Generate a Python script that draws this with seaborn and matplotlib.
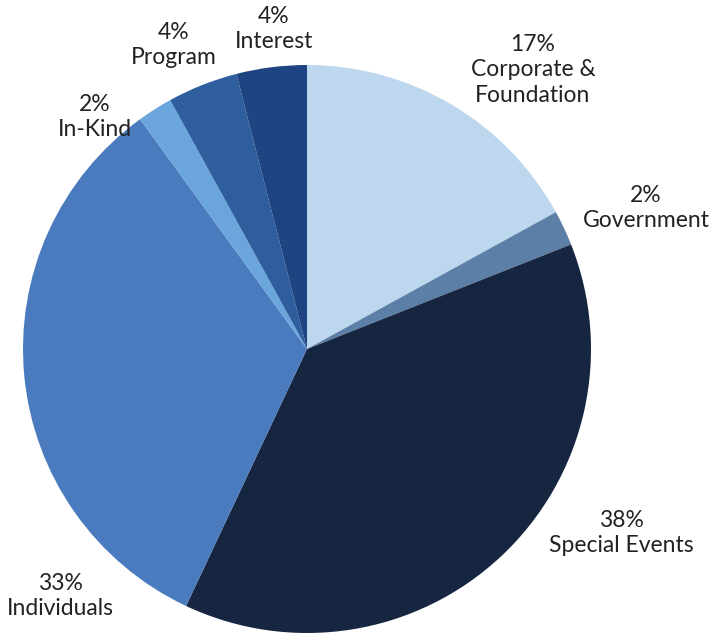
import matplotlib
matplotlib.use("Agg")
import matplotlib.pyplot as plt
import seaborn as sns

categories = ["Corporate &\nFoundation", "Government", "Special Events", "Individuals",
              "In-Kind", "Program", "Interest"]
values = [17, 2, 38, 33, 2, 4, 4]
colors = ["#BDD7EE", "#5B7FA6", "#172640", "#4A7BBF", "#6AA6DB", "#2F5E9E", "#1F4482"]

# label centres (image pixels from top-left)
label_pos = [(533, 70), (646, 208), (621, 533), (60, 596), (95, 117), (174, 45), (274, 29)]

sns.set_theme(style="white")
plt.rcParams['font.family'] = ['Lato', 'DejaVu Sans']

W, H = 711, 635
fig = plt.figure(figsize=(W / 100, H / 100), dpi=100)
ax = fig.add_axes([0, 0, 1, 1])

ax.pie(values, colors=colors, startangle=90, counterclock=False,
       center=(307, H - 349), radius=284, frame=True,
       wedgeprops=dict(linewidth=0))
ax.set_xlim(0, W)
ax.set_ylim(0, H)
ax.set_aspect("equal")
ax.axis("off")

for cat, v, (x, y) in zip(categories, values, label_pos):
    ax.text(x, H - y, f"{v}%\n{cat}", ha="center", va="center", fontsize=16.5,
            color="#222222", linespacing=1.25)

fig.savefig("out.png", dpi=100, facecolor="white")
